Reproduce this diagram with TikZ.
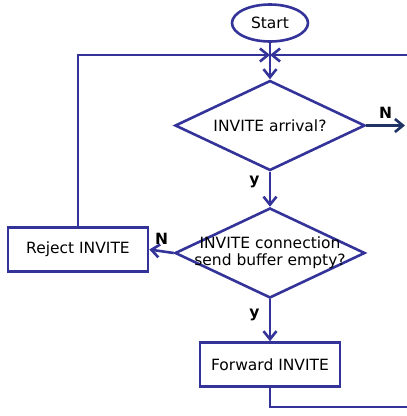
\documentclass[tikz,border=0pt]{standalone}
\usepackage{fontspec}
\setmainfont{DejaVu Sans}
\usetikzlibrary{shapes.geometric,arrows.meta}
\definecolor{flowblue}{RGB}{51,51,153}
\definecolor{flownavy}{RGB}{31,50,100}

\begin{document}
\begin{tikzpicture}[x=1pt, y=-1pt, line width=2.6pt, flowblue, line join=miter,
    >={Straight Barb[length=8pt,width=13pt]},
    every node/.style={text=black, font=\fontsize{15.5}{17}\selectfont},
    terminal/.style={ellipse, draw=flowblue, minimum width=76pt, minimum height=37pt, inner sep=0pt},
    decision/.style={diamond, draw=flowblue, aspect=2.1, minimum width=190pt, minimum height=90pt,
      inner xsep=-16pt, inner ysep=-6pt, align=center},
    process/.style={rectangle, draw=flowblue, minimum width=140pt, minimum height=44pt},
    answer/.style={font=\fontsize{15.5}{17}\selectfont\bfseries}]

  \useasboundingbox (0,0) rectangle (407,416);

  \node[terminal] (start) at (270,23) {Start};
  \node[decision] (arrival) at (270,125.5) {INVITE arrival?};
  \node[decision] (buffer) at (270,253) {INVITE connection\\send buffer empty?};
  \node[process] (reject) at (78,249.5) {Reject INVITE};
  \node[process] (forward) at (270,364.5) {Forward INVITE};

  \coordinate (join) at (270,55);
  \coordinate (loopin) at (407,55);
  \coordinate (exit) at (405,125.5);
  \coordinate (loopout) at (407,407);

  \draw[->] (start) -- (arrival);
  \draw[->] (reject.north) |- (join);
  \draw[->] (loopin) -- (join);
  \draw[->, flownavy] (arrival.east) -- node[answer, above=2pt] {N} (exit);
  \draw[->] (arrival.south) -- node[answer, left=6pt, pos=0.3] {y} (buffer.north);
  \draw[->] (buffer.west) -- node[answer, above=2pt] {N} (reject.east);
  \draw[->] (buffer.south) -- node[answer, left=6pt, pos=0.38] {y} (forward.north);
  \draw (forward.south) |- (loopout);
\end{tikzpicture}
\end{document}
